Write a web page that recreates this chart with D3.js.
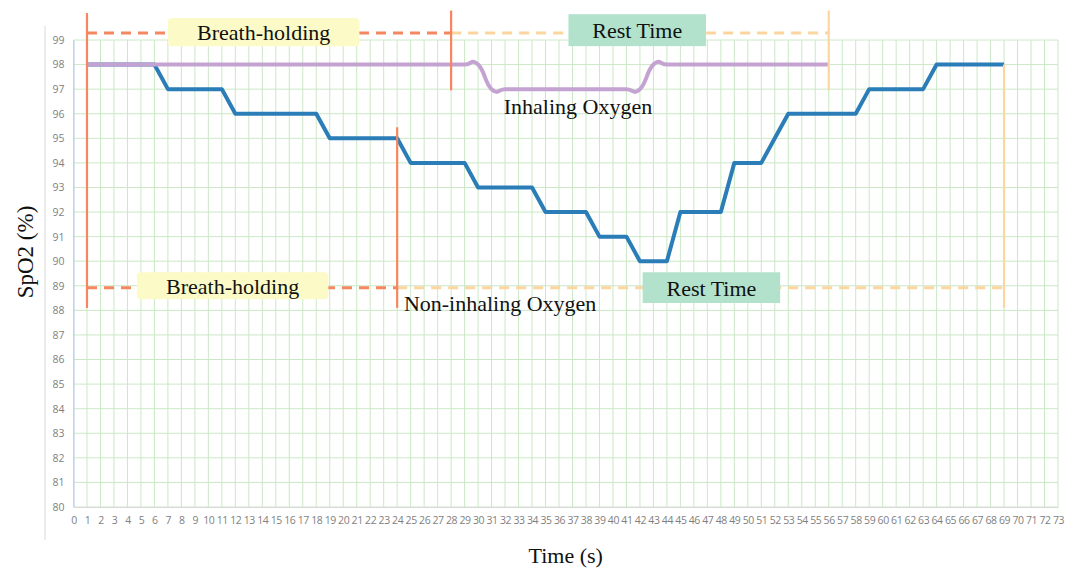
<!DOCTYPE html>
<html><head><meta charset="utf-8">
<script src="https://cdn.jsdelivr.net/npm/d3@7"></script>
<style>body{margin:0;background:#fff}svg{display:block}</style>
</head><body><svg id="c" width="1073" height="568"></svg>
<script>
// data
const timeTicks = d3.range(0, 74);
const spo2Ticks = d3.range(80, 100);
const blueX = d3.range(1, 70);
const blueY = [98,98,98,98,98,98,97,97,97,97,97,96,96,96,96,96,96,96,95,95,95,95,95,95,94,94,94,94,94,93,93,93,93,93,92,92,92,92,91,91,91,90,90,90,92,92,92,92,94,94,94,95,96,96,96,96,96,96,97,97,97,97,97,98,98,98,98,98,98];
const purpleX = d3.range(1, 57);
const purpleY = [98,98,98,98,98,98,98,98,98,98,98,98,98,98,98,98,98,98,98,98,98,98,98,98,98,98,98,98,98,98,97,97,97,97,97,97,97,97,97,97,97,97,98,98,98,98,98,98,98,98,98,98,98,98,98,98];
const phaseTop = [{from:1,to:28,level:99.28,color:"#f4875f"},{from:28,to:56,level:99.28,color:"#fdd59f"}];
const phaseBottom = [{from:1,to:24,level:88.92,color:"#f4875f"},{from:24,to:69,level:88.92,color:"#fdd59f"}];
const markers = [
  {x:1,y0:100.1,y1:88.1,color:"#f4875f"},
  {x:28,y0:100.2,y1:96.95,color:"#f4875f"},
  {x:56,y0:100.2,y1:96.95,color:"#fdd59f"},
  {x:24,y0:95.45,y1:88.1,color:"#f4875f"},
  {x:69,y0:98.0,y1:88.1,color:"#fdd59f"}
];
const boxes = [
  {x0:7.0,x1:21.2,y0:99.9,y1:98.75,fill:"#fcfac6",text:"Breath-holding"},
  {x0:36.7,x1:46.9,y0:100.05,y1:98.75,fill:"#b3e2cc",text:"Rest Time"},
  {x0:4.7,x1:18.9,y0:89.55,y1:88.45,fill:"#fcfac6",text:"Breath-holding"},
  {x0:42.2,x1:52.4,y0:89.55,y1:88.3,fill:"#b3e2cc",text:"Rest Time"}
];
const notes = [
  {x:31.9,y:96.0,text:"Inhaling Oxygen"},
  {x:24.5,y:87.97,text:"Non-inhaling Oxygen"}
];

const svg = d3.select("#c");
const X = d3.scaleLinear().domain([0,73]).range([73.5,1058]);
const Y = d3.scaleLinear().domain([80,99]).range([507,40]);
const serif = "'Liberation Serif', 'Times New Roman', serif";
const sans = "'Open Sans', 'DejaVu Sans', sans-serif";

// outer light border line
svg.append("line").attr("x1",45).attr("x2",45).attr("y1",26).attr("y2",540).attr("stroke","#d9d9d9").attr("stroke-width",1);

// grid
const g = svg.append("g");
g.selectAll(".vg").data(timeTicks).join("line")
  .attr("x1",d=>X(d)).attr("x2",d=>X(d)).attr("y1",Y(99)).attr("y2",Y(80))
  .attr("stroke","#cbe8c6").attr("stroke-width",1);
g.selectAll(".hg").data(spo2Ticks).join("line")
  .attr("x1",X(0)).attr("x2",X(73)).attr("y1",d=>Y(d)).attr("y2",d=>Y(d))
  .attr("stroke","#cbe8c6").attr("stroke-width",1);

// axes
const yAxis = svg.append("g").attr("transform",`translate(${X(0)},0)`)
  .call(d3.axisLeft(Y).tickValues(spo2Ticks).tickSize(0).tickPadding(9));
yAxis.select(".domain").attr("stroke","#b8cbe0");
yAxis.selectAll("text").attr("font-family",sans).attr("font-size",10.5).attr("fill","#7f7f7f");
const xAxis = svg.append("g").attr("transform",`translate(0,${Y(80)})`)
  .call(d3.axisBottom(X).tickValues(timeTicks).tickFormat(d3.format("d")).tickSize(0).tickPadding(10));
xAxis.select(".domain").attr("stroke","#d9d9d9");
xAxis.selectAll("text").attr("font-family",sans).attr("font-size",10.5).attr("fill","#7f7f7f").attr("letter-spacing",-0.4);

// blue line
svg.append("path").datum(blueX.map((x,i)=>[x,blueY[i]]))
  .attr("d",d3.line().x(d=>X(d[0])).y(d=>Y(d[1])))
  .attr("fill","none").attr("stroke","#2b7db7").attr("stroke-width",4).attr("stroke-linejoin","round");

// purple smoothed line
svg.append("path").datum(purpleX.map((x,i)=>[x,purpleY[i]]))
  .attr("d",d3.line().x(d=>X(d[0])).y(d=>Y(d[1])).curve(d3.curveCardinal.tension(-0.5)))
  .attr("fill","none").attr("stroke","#c4a3d3").attr("stroke-width",4);

// dashed phase lines
[...phaseTop,...phaseBottom].forEach(p=>{
  svg.append("line").attr("x1",X(p.from)).attr("x2",X(p.to)).attr("y1",Y(p.level)).attr("y2",Y(p.level))
    .attr("stroke",p.color).attr("stroke-width",3).attr("stroke-dasharray","10,7");
});
// boxes
boxes.forEach(b=>{
  svg.append("rect").attr("x",X(b.x0)).attr("y",Y(b.y0)).attr("width",X(b.x1)-X(b.x0)).attr("height",Y(b.y1)-Y(b.y0))
    .attr("rx",b.fill==="#fcfac6"?4:0).attr("fill",b.fill);
  svg.append("text").attr("x",(X(b.x0)+X(b.x1))/2).attr("y",(Y(b.y0)+Y(b.y1))/2+8)
    .attr("text-anchor","middle").attr("font-family",serif).attr("font-size",22).attr("fill","#111").text(b.text);
});
// markers
markers.forEach(m=>{
  svg.append("line").attr("x1",X(m.x)).attr("x2",X(m.x)).attr("y1",Y(m.y0)).attr("y2",Y(m.y1))
    .attr("stroke",m.color).attr("stroke-width",2.2);
});
// notes
notes.forEach(n=>{
  svg.append("text").attr("x",X(n.x)).attr("y",Y(n.y)).attr("font-family",serif)
    .attr("font-size",22).attr("fill","#111").text(n.text);
});

// axis titles
svg.append("text").attr("x",(X(0)+X(73))/2).attr("y",563).attr("text-anchor","middle")
  .attr("font-family",serif).attr("font-size",22).attr("fill","#111").text("Time (s)");
svg.append("text").attr("transform","translate(33,252) rotate(-90)").attr("text-anchor","middle")
  .attr("font-family",serif).attr("font-size",23).attr("fill","#111").text("SpO2 (%)");
</script></body></html>
